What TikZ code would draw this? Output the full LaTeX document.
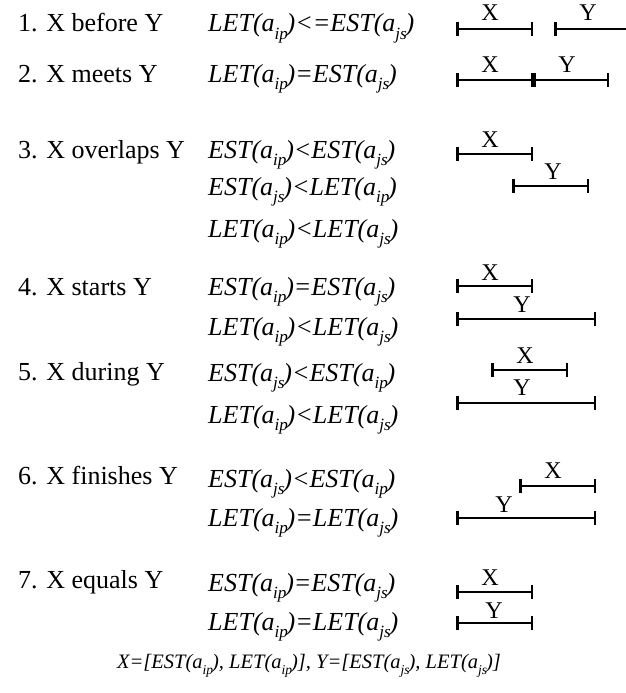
\documentclass[tikz,border=0pt]{standalone}
\usepackage{fontspec}
\setmainfont{Liberation Serif}
\usetikzlibrary{arrows.meta}
\newcommand{\sbs}[1]{\raisebox{-0.3em}{\scalebox{0.66}{#1}}}
\newcommand{\tm}[2]{#1(a\sbs{#2}\kern-0.05em)}
\tikzset{
    relName/.style={
        anchor=base west,
        inner sep=0pt,
        font=\fontsize{26}{30}\selectfont
    },
    relCond/.style={
        anchor=base west,
        inner sep=0pt,
        font=\fontsize{26}{30}\selectfont\itshape
    },
    barLine/.style={
        {Bar[width=14pt]}-{Bar[width=14pt]},
        line width=2.5pt
    },
    barOpen/.style={
        {Bar[width=14pt]}-,
        line width=2.5pt
    },
    barTag/.style={
        anchor=base,
        inner sep=0pt,
        font=\fontsize{24}{26}\selectfont
    }
}
\begin{document}
\begin{tikzpicture}[x=1pt,y=-1pt]
    \useasboundingbox (0,0) rectangle (626,693);

    % relation names
    \node[relName] (before) at (18,32) {1. X before Y};
    \node[relName] (meets) at (18,82) {2. X meets Y};
    \node[relName] (overlaps) at (18,158) {3. X overlaps Y};
    \node[relName] (starts) at (18,295) {4. X starts Y};
    \node[relName] (during) at (18,380) {5. X during Y};
    \node[relName] (finishes) at (18,484) {6. X finishes Y};
    \node[relName] (equals) at (18,588) {7. X equals Y};

    % conditions
    \node[relCond] (c1) at (208,32) {\tm{LET}{ip}<=\tm{EST}{js}};
    \node[relCond] (c2) at (208,82) {\tm{LET}{ip}=\tm{EST}{js}};
    \node[relCond] (c3a) at (208,158) {\tm{EST}{ip}<\tm{EST}{js}};
    \node[relCond] (c3b) at (208,195) {\tm{EST}{js}<\tm{LET}{ip}};
    \node[relCond] (c3c) at (208,237) {\tm{LET}{ip}<\tm{LET}{js}};
    \node[relCond] (c4a) at (208,295) {\tm{EST}{ip}=\tm{EST}{js}};
    \node[relCond] (c4b) at (208,335) {\tm{LET}{ip}<\tm{LET}{js}};
    \node[relCond] (c5a) at (208,381) {\tm{EST}{js}<\tm{EST}{ip}};
    \node[relCond] (c5b) at (208,423) {\tm{LET}{ip}<\tm{LET}{js}};
    \node[relCond] (c6a) at (208,487) {\tm{EST}{js}<\tm{EST}{ip}};
    \node[relCond] (c6b) at (208,526) {\tm{LET}{ip}=\tm{LET}{js}};
    \node[relCond] (c7a) at (208,591) {\tm{EST}{ip}=\tm{EST}{js}};
    \node[relCond] (c7b) at (208,630) {\tm{LET}{ip}=\tm{LET}{js}};

    % intervals
    \draw[barLine] (456,29) -- (533,29);
    \draw[barOpen] (554,29) -- (626,29);
    \node[barTag] (x1) at (490,21) {X};
    \node[barTag] (y1) at (588,21) {Y};

    \draw[barLine] (456,80) -- (533,80);
    \draw[barLine] (533,80) -- (609,80);
    \node[barTag] (x2) at (490,73) {X};
    \node[barTag] (y2) at (567,73) {Y};

    \draw[barLine] (456,154) -- (533,154);
    \draw[barLine] (512,186) -- (589,186);
    \node[barTag] (x3) at (490,147) {X};
    \node[barTag] (y3) at (553,179) {Y};

    \draw[barLine] (456,286) -- (533,286);
    \draw[barLine] (456,319) -- (596,319);
    \node[barTag] (x4) at (490,280) {X};
    \node[barTag] (y4) at (522,312) {Y};

    \draw[barLine] (491,370) -- (568,370);
    \draw[barLine] (456,403) -- (596,403);
    \node[barTag] (x5) at (525,363) {X};
    \node[barTag] (y5) at (522,395) {Y};

    \draw[barLine] (519,486) -- (596,486);
    \draw[barLine] (456,518) -- (596,518);
    \node[barTag] (x6) at (553,478) {X};
    \node[barTag] (y6) at (504,512) {Y};

    \draw[barLine] (456,592) -- (533,592);
    \draw[barLine] (456,623) -- (533,623);
    \node[barTag] (x7) at (490,585) {X};
    \node[barTag] (y7) at (494,618) {Y};

    % interval definitions
    \node[anchor=base,inner sep=0pt,font=\fontsize{20.5}{24}\selectfont\itshape] (defs) at (309,668)
        {X=[\tm{EST}{ip}, \tm{LET}{ip}], Y=[\tm{EST}{js}, \tm{LET}{js}]};
\end{tikzpicture}
\end{document}
